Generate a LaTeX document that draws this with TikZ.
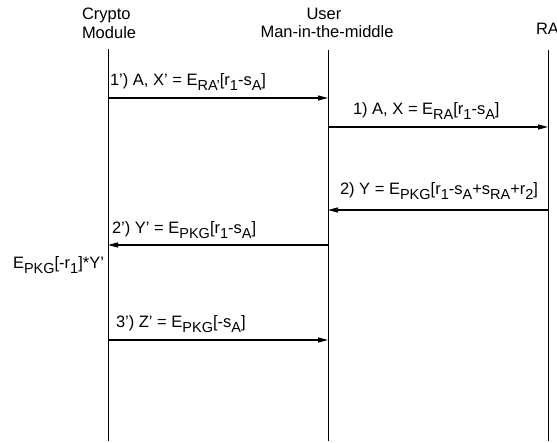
\documentclass[tikz,border=0pt]{standalone}
\usepackage{fontspec}
\setmainfont{Liberation Sans}
\usetikzlibrary{arrows.meta}
\newcommand\lo[1]{\raisebox{-4.2pt}{\fontsize{14.5}{15}\selectfont #1}}
\begin{document}
\begin{tikzpicture}[x=1pt,y=-1pt,
  every node/.style={inner sep=0pt,outer sep=0pt,font=\fontsize{16.5}{19}\selectfont},
  life/.style={line width=0.9pt,black},
  msg/.style={line width=1.1pt,-{Triangle[length=10pt,width=5pt]}},
  lbl/.style={anchor=base west}]
\useasboundingbox (0,0) rectangle (557,443);
% headers
\node[lbl] (hc1) at (82,20) {Crypto};
\node[lbl] (hc2) at (82,39) {Module};
\node[anchor=base] (hu1) at (324,20) {User};
\node[anchor=base] (hu2) at (327,38) {Man-in-the-middle};
\node[lbl] (hra) at (536,35) {RA};
% lifelines
\coordinate (Lt) at (108,49); \coordinate (Lb) at (108,441);
\coordinate (Mt) at (328,50); \coordinate (Mb) at (328,441);
\coordinate (Rt) at (548,50); \coordinate (Rb) at (548,441);
\draw[life] (Lt) -- (Lb);
\draw[life] (Mt) -- (Mb);
\draw[life] (Rt) -- (Rb);
% message points
\coordinate (L1) at (108,98);  \coordinate (M1) at (328,98);
\coordinate (M2) at (328,127); \coordinate (R2) at (548,127);
\coordinate (R3) at (548,210); \coordinate (M3) at (328,210);
\coordinate (M4) at (328,245); \coordinate (L4) at (108,245);
\coordinate (L5) at (108,340); \coordinate (M5) at (328,340);
\draw[msg] (L1) -- (M1);
\draw[msg] (M2) -- (R2);
\draw[msg] (R3) -- (M3);
\draw[msg] (M4) -- (L4);
\draw[msg] (L5) -- (M5);
% labels
\node[lbl] (t1p) at (110,86) {1’) A, X’ = E\lo{RA’}[r\lo{1}-s\lo{A}]};
\node[lbl] (t1) at (353,115) {1) A, X = E\lo{RA}[r\lo{1}-s\lo{A}]};
\node[lbl] (t2) at (340,195) {2) Y = E\lo{PKG}[r\lo{1}-s\lo{A}+s\lo{RA}+r\lo{2}]};
\node[lbl] (t2p) at (112,234) {2’) Y’ = E\lo{PKG}[r\lo{1}-s\lo{A}]};
\node[lbl] (tc) at (13,269) {E\lo{PKG}[-r\lo{1}]*Y’};
\node[lbl] (t3p) at (116,328) {3’) Z’ = E\lo{PKG}[-s\lo{A}]};
\end{tikzpicture}
\end{document}
